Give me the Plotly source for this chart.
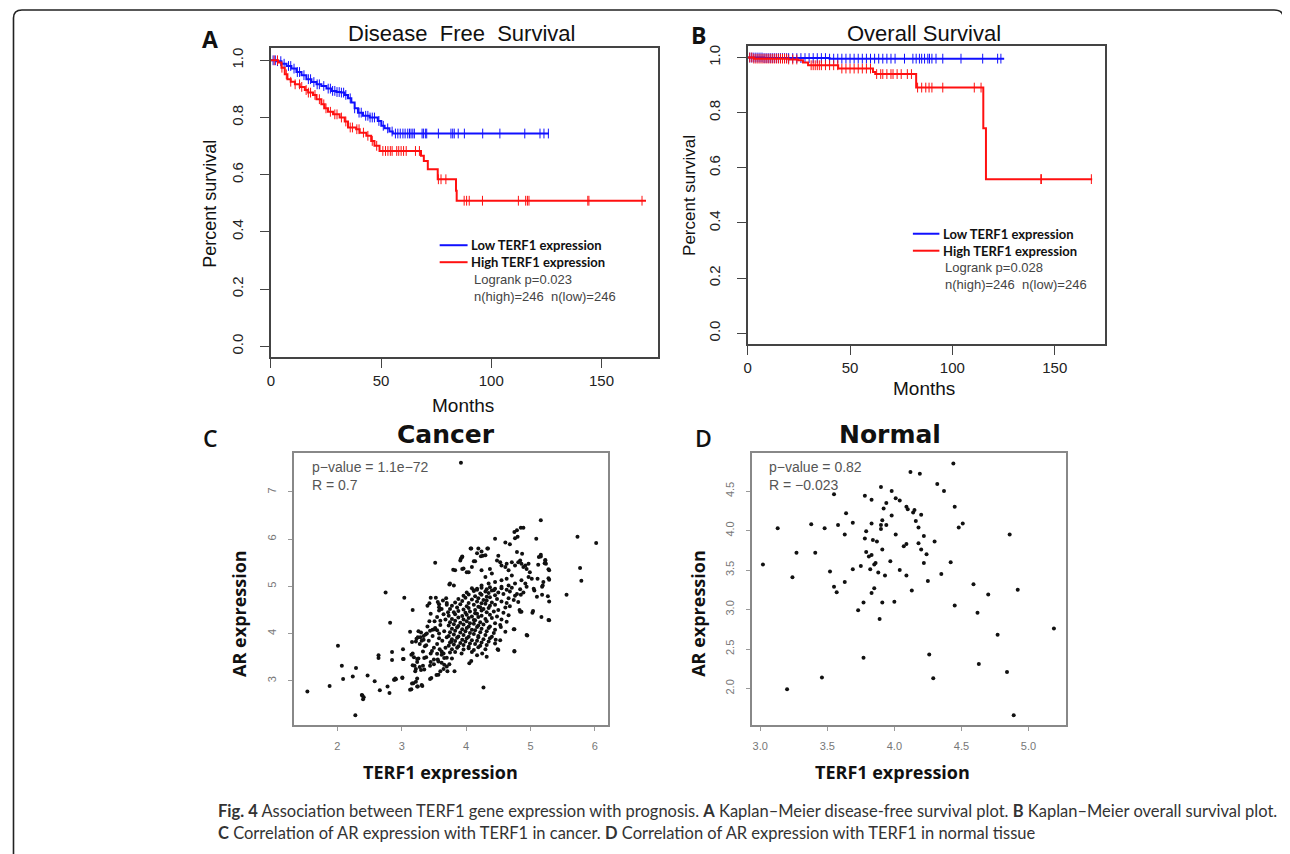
import numpy as np
import plotly.graph_objects as go

W, H = 1290, 854          # browser window
OFF = 8                   # default page body margin
FW, FH = W - OFF, H - OFF # figure size

# ---------------- Panel A: Disease free survival ----------------
dfs_low_t = [0, 2.6, 4.8, 7.1, 9.3, 11.6, 13.9, 16.1, 18.4, 20.7, 22.9, 25.2, 27.4, 29.7, 31.9,
             33.5, 35.0, 36.5, 38.0, 39.5, 41.8, 44.8, 48.5, 50.1, 51.6, 53.8, 55.3]
dfs_low_s = [1.0, 0.997, 0.988, 0.980, 0.971, 0.959, 0.948, 0.934, 0.924, 0.916, 0.910, 0.901, 0.893,
             0.889, 0.887, 0.879, 0.867, 0.852, 0.832, 0.817, 0.806, 0.800, 0.788, 0.771, 0.762, 0.751, 0.744]
dfs_low_end = 126.2
dfs_low_cens = [1, 2, 3, 4.5, 6, 8, 9, 10.5, 12, 13, 15, 17, 18, 19.5, 21, 22, 24, 26, 27, 28, 29, 30, 31,
                32, 33, 34, 36, 38, 40, 41, 43, 44, 45, 46, 47, 49, 51, 53, 55, 56.5, 57.6, 58.7, 59.9,
                60.9, 62.1, 62.9, 63.6, 64.4, 65.1, 68.6, 69.2, 70.1, 70.7, 76.0, 81.7, 82.5, 83.2, 85.0,
                87.8, 96.1, 103.9, 115.2, 122.1, 123.9, 125.9]

dfs_high_t = [0, 3.3, 4.8, 6.3, 7.5, 9.0, 10.9, 13.1, 15.4, 16.9, 19.1, 20.7, 22.9, 24.4, 25.9, 28.2,
              31.2, 33.5, 35.0, 38.7, 40.3, 43.3, 45.5, 47.0, 49.3, 68.1, 69.4, 71.2, 75.7, 84.0, 84.3]
dfs_high_s = [1.0, 0.992, 0.974, 0.951, 0.934, 0.925, 0.916, 0.907, 0.896, 0.887, 0.879, 0.864, 0.846,
              0.832, 0.820, 0.811, 0.800, 0.786, 0.765, 0.759, 0.747, 0.736, 0.718, 0.701, 0.683, 0.666,
              0.648, 0.619, 0.584, 0.544, 0.509]
dfs_high_end = 170.2
dfs_high_cens = [1.5, 3, 5, 7, 9, 11, 13, 14, 16, 17, 18, 20, 22, 24, 25, 27, 29, 30, 32, 34, 36, 37, 39,
                 40, 42, 44, 46, 48, 50.8, 52.0, 53.1, 54.2, 55.0, 57.1, 58.0, 59.1, 60.2, 61.4, 65.6,
                 67.4, 76.0, 77.2, 79.4, 87.7, 88.8, 90.0, 96.0, 112.3, 115.6, 116.4, 117.1, 143.8,
                 144.3, 168.4]

# ---------------- Panel B: Overall survival ----------------
os_low_t = [0, 8, 40]
os_low_s = [1.0, 0.998, 0.996]
os_low_end = 125.3
os_low_cens = [1, 2, 3, 4, 5, 6, 7, 8, 9, 10, 11, 12, 13, 14, 15, 16, 17, 18, 19, 20, 22, 24, 26, 28,
               30, 32, 34, 36, 38, 40, 42, 44, 46, 48, 50, 52, 54, 56, 58, 60, 62, 64, 66, 68, 70, 72,
               76.6, 80.7, 82.3, 83.9, 85, 86.4, 88.0, 88.8, 90, 92.0, 95.3, 104.2, 114.8, 122.1, 123.7]

os_high_t = [0, 3, 20, 24.7, 27, 29.5, 44.2, 61.2, 62.3, 82.3, 115.1, 116.4]
os_high_s = [1.0, 0.996, 0.993, 0.99, 0.982, 0.972, 0.960, 0.948, 0.940, 0.891, 0.744, 0.559]
os_high_end = 168.3
os_high_cens = [1, 2, 3, 4, 5, 6, 7, 8, 9, 10, 11, 12, 13, 14, 15, 16, 17, 18, 19, 20, 22, 24, 31, 32,
                33, 34, 35, 36, 38, 40, 42, 44, 46, 48, 50, 52, 54, 56, 58, 60, 63, 65, 66, 68, 70, 71,
                73, 75, 78, 80, 83, 85, 87, 88.6, 90, 95.3, 110.7, 114, 143.2, 143.5, 167.9]

# ---------------- Panel C: Cancer (TERF1, AR) ----------------
cancer_points = [
    (3.92, 7.62), (1.535, 2.775), (1.88, 2.89), (2.01, 3.74), (2.07, 3.32), (2.09, 3.04), (2.24, 3.09),
    (2.29, 3.27), (2.28, 2.27), (2.38, 2.70), (2.41, 2.65), (2.47, 3.11), (2.58, 2.99), (2.64, 3.54),
    (2.64, 3.48), (2.66, 2.80), (2.75, 4.87), (2.78, 2.88), (2.81, 2.74), (2.82, 4.23), (2.85, 3.61),
    (2.85, 3.44), (2.89, 3.02), (2.91, 3.03), (3.02, 3.67), (3.01, 3.06), (3.04, 4.76), (3.03, 3.46),
    (3.13, 4.04), (3.15, 2.82), (3.17, 4.50), (3.17, 3.58), (3.18, 2.95), (3.20, 3.32), (3.22, 3.83),
    (3.24, 3.46), (3.21, 3.20), (3.25, 2.88), (3.32, 2.89), (3.30, 3.23), (3.34, 3.87), (3.36, 3.73),
    (3.38, 3.50), (3.40, 4.59), (3.43, 4.64), (3.45, 4.76), (3.44, 3.32), (3.46, 3.06), (3.47, 3.63),
    (3.48, 4.08), (3.52, 5.50), (3.57, 3.13), (3.57, 3.41), (3.58, 3.90), (3.59, 3.67), (3.60, 4.27),
    (3.62, 3.62), (3.66, 3.34), (3.69, 4.75), (3.70, 4.61), (3.71, 3.20), (3.74, 5.04), (3.77, 3.83),
    (3.82, 3.20), (3.80, 5.35), (3.92, 5.59), (3.94, 5.63), (3.96, 5.38), (4.07, 5.80), (4.19, 5.80),
    (4.23, 5.64), (4.30, 5.66), (4.33, 5.80), (4.27, 2.86), (4.45, 6.01), (4.61, 5.93), (4.68, 5.89),
    (4.75, 6.15), (4.79, 6.19), (4.85, 6.24), (4.89, 6.24), (4.80, 6.05), (4.76, 6.02), (5.16, 6.40),
    (5.09, 6.01), (5.73, 6.05), (6.02, 5.92), (5.77, 5.39), (5.79, 5.12), (5.56, 4.82), (5.29, 4.68),
    (5.28, 4.29), (5.03, 4.44), (4.95, 3.96), (4.75, 3.62), (4.75, 4.09), (4.50, 3.65), (4.46, 3.87),
    (5.18, 4.82), (5.18, 4.99), (5.28, 5.17), (5.23, 5.56), (5.16, 5.63), (5.22, 5.49), (5.28, 5.36),
    # upper part of the main cloud
    (4.08, 5.80), (4.17, 5.70), (4.24, 5.74), (4.34, 5.80), (4.26, 5.65), (3.94, 5.62), (3.91, 5.55),
    (3.83, 5.34), (3.94, 5.37), (4.01, 5.30), (4.09, 5.41), (4.12, 5.53), (4.14, 5.53), (4.24, 5.34),
    (4.30, 5.20), (4.37, 5.37), (4.40, 5.27), (4.50, 5.65), (4.48, 5.55), (4.53, 5.51), (4.55, 5.44),
    (4.61, 5.41), (4.63, 5.48), (4.66, 5.34), (4.71, 5.51), (4.76, 5.44), (4.81, 5.51), (4.84, 5.55),
    (4.86, 5.48), (4.89, 5.41), (4.92, 5.44), (4.94, 5.37), (4.97, 5.48), (4.99, 5.30), (4.79, 5.73),
    (4.87, 5.69), (5.13, 5.62), (5.16, 5.67), (5.23, 5.55), (5.24, 5.48), (5.12, 5.46), (5.29, 5.34),
    (4.97, 5.20), (5.02, 5.16), (5.11, 5.16), (5.20, 5.09), (5.29, 5.14), (4.71, 5.23), (4.63, 5.16),
    (4.55, 5.13), (4.45, 5.09), (4.35, 5.06), (4.24, 5.02), (4.17, 4.95), (4.12, 4.92), (4.04, 5.30),
    (3.81, 5.02), (3.75, 5.06), (4.45, 4.95), (4.55, 4.99), (4.66, 5.02), (4.76, 5.06), (4.86, 5.13),
    (4.92, 5.06), (5.05, 4.95), (5.19, 5.02),
    # dense core
    (4.09, 4.96), (4.17, 4.93), (4.24, 4.97), (4.32, 4.94), (4.37, 4.98), (4.43, 4.92), (4.55, 4.96),
    (4.63, 4.93), (4.71, 4.97), (4.84, 4.94), (4.94, 4.99), (5.06, 4.91),
    (4.01, 4.87), (4.12, 4.90), (4.22, 4.85), (4.30, 4.89), (4.35, 4.86), (4.40, 4.91), (4.50, 4.87),
    (4.68, 4.89), (4.79, 4.84), (4.89, 4.87),
    (3.96, 4.80), (4.04, 4.83), (4.14, 4.79), (4.24, 4.82), (4.32, 4.78), (4.45, 4.81), (4.58, 4.84),
    (4.76, 4.80), (4.85, 4.82),
    (3.88, 4.73), (3.99, 4.76), (4.09, 4.72), (4.19, 4.75), (4.27, 4.71), (4.37, 4.77), (4.48, 4.73),
    (4.66, 4.75), (4.74, 4.71),
    (3.83, 4.66), (3.94, 4.69), (4.04, 4.65), (4.17, 4.68), (4.24, 4.64), (4.32, 4.70), (4.40, 4.66),
    (4.55, 4.68), (4.63, 4.65), (4.81, 4.67),
    (3.78, 4.59), (3.91, 4.62), (4.01, 4.58), (4.12, 4.61), (4.19, 4.57), (4.30, 4.63), (4.37, 4.59),
    (4.45, 4.61), (4.68, 4.58),
    (3.75, 4.52), (3.86, 4.55), (3.96, 4.51), (4.04, 4.54), (4.14, 4.50), (4.22, 4.56), (4.27, 4.52),
    (4.35, 4.54), (4.50, 4.50), (4.61, 4.55),
    (3.81, 4.45), (3.88, 4.48), (3.99, 4.44), (4.06, 4.47), (4.14, 4.43), (4.24, 4.49), (4.32, 4.45),
    (4.43, 4.47), (4.58, 4.44), (4.84, 4.46),
    (3.73, 4.38), (3.83, 4.41), (3.94, 4.37), (4.01, 4.40), (4.09, 4.36), (4.17, 4.42), (4.24, 4.38),
    (4.37, 4.40), (4.48, 4.36), (4.66, 4.39),
    (3.78, 4.31), (3.88, 4.34), (3.96, 4.30), (4.04, 4.33), (4.12, 4.29), (4.19, 4.35), (4.30, 4.31),
    (4.40, 4.33), (4.55, 4.30),
    (3.75, 4.24), (3.83, 4.27), (3.91, 4.23), (4.01, 4.26), (4.06, 4.22), (4.14, 4.28), (4.22, 4.24),
    (4.32, 4.26), (4.45, 4.22), (4.63, 4.25),
    (3.73, 4.17), (3.81, 4.20), (3.88, 4.16), (3.96, 4.19), (4.04, 4.15), (4.12, 4.21), (4.19, 4.17),
    (4.27, 4.19), (4.37, 4.15), (4.53, 4.18),
    (3.78, 4.10), (3.86, 4.13), (3.94, 4.09), (4.01, 4.12), (4.09, 4.08), (4.17, 4.14), (4.24, 4.10),
    (4.35, 4.12), (4.45, 4.08),
    (3.75, 4.03), (3.83, 4.06), (3.91, 4.02), (3.99, 4.05), (4.06, 4.01), (4.14, 4.07), (4.22, 4.03),
    (4.32, 4.05), (4.43, 4.01), (4.61, 4.04),
    (3.73, 3.95), (3.81, 3.98), (3.88, 3.94), (3.96, 3.97), (4.04, 3.93), (4.12, 3.99), (4.19, 3.95),
    (4.30, 3.97), (4.40, 3.93),
    (3.78, 3.88), (3.86, 3.91), (3.94, 3.87), (4.01, 3.90), (4.09, 3.86), (4.19, 3.92), (4.27, 3.88),
    (4.37, 3.90), (4.53, 3.86),
    (3.75, 3.81), (3.83, 3.84), (3.91, 3.80), (3.99, 3.83), (4.06, 3.79), (4.17, 3.85), (4.24, 3.81),
    (4.35, 3.83), (4.45, 3.79),
    (3.73, 3.74), (3.81, 3.77), (3.88, 3.73), (3.96, 3.76), (4.04, 3.72), (4.14, 3.78), (4.22, 3.74),
    (4.32, 3.76),
    (3.78, 3.67), (3.86, 3.70), (3.96, 3.66), (4.04, 3.69), (4.12, 3.65), (4.19, 3.71), (4.30, 3.67),
    # left side of the cloud
    (3.62, 4.52), (3.65, 4.41), (3.68, 4.30), (3.55, 4.35), (3.60, 4.18), (3.66, 4.05), (3.52, 4.12),
    (3.58, 4.00), (3.70, 3.92), (3.48, 3.95), (3.63, 3.85), (3.55, 3.78), (3.68, 3.70), (3.42, 3.85),
    (3.50, 3.70), (3.38, 3.75), (3.45, 3.58), (3.62, 3.55), (3.33, 3.62), (3.28, 3.78), (3.25, 3.92),
    (3.30, 4.02), (3.40, 4.15), (3.35, 3.48), (3.50, 3.45), (3.66, 3.48), (3.72, 4.45), (3.70, 4.65),
    (3.64, 4.70), (3.58, 4.62), (3.45, 4.42),
    (3.43, 4.26), (3.51, 4.26), (3.53, 4.76), (3.56, 4.67), (3.58, 4.56), (3.58, 4.49), (3.26, 4.05),
    (3.16, 3.82), (3.23, 3.89), (3.29, 3.92), (3.31, 3.85), (3.34, 3.95), (3.37, 3.98), (3.39, 4.00),
    (3.44, 4.06), (3.51, 4.09), (3.55, 4.07), (3.02, 3.46), (3.15, 3.55), (3.19, 3.50), (3.26, 3.47),
    (3.17, 3.33), (3.22, 3.25), (3.28, 3.29), (3.33, 3.32), (3.35, 3.24), (3.24, 3.40), (3.45, 3.40),
    (3.50, 3.35), (3.56, 3.45), (3.62, 3.38), (3.70, 3.49), (3.75, 3.60), (3.65, 3.58), (3.55, 3.57),
    (2.39, 2.69), (2.40, 2.61), (2.88, 3.02), (2.90, 3.05), (3.01, 3.07), (3.13, 2.81), (3.16, 2.94),
    (3.24, 2.88), (3.31, 2.91), (3.22, 2.98), (3.24, 3.05), (3.44, 3.04), (3.54, 3.12), (3.60, 3.20),
    (3.65, 3.25), (3.70, 3.30), (3.74, 3.35),
    # right / lower edge of the cloud
    (5.27, 4.79), (5.10, 4.78), (5.29, 4.28), (5.17, 4.35), (5.04, 4.48), (4.86, 4.46), (4.83, 4.50),
    (4.94, 3.97), (4.74, 4.09), (4.75, 3.63), (4.54, 4.14), (4.49, 3.67), (4.32, 3.51), (4.25, 3.58),
    (4.17, 3.54), (4.09, 3.61), (4.05, 3.37), (4.08, 3.42), (3.93, 3.58), (3.83, 3.61), (3.78, 3.47),
]
cancer_terf1 = [p[0] for p in cancer_points]
cancer_ar = [p[1] for p in cancer_points]

# ---------------- Panel D: Normal (TERF1, AR) ----------------
normal_points = [
    (3.02, 3.57), (3.13, 4.03), (3.20, 1.99), (3.24, 3.41), (3.27, 3.72), (3.38, 4.08), (3.41, 3.72),
    (3.46, 2.14), (3.48, 4.03), (3.52, 3.48), (3.55, 4.46), (3.55, 3.29), (3.57, 3.22), (3.58, 4.07),
    (3.63, 3.35), (3.63, 3.95), (3.64, 4.22), (3.69, 4.10), (3.69, 3.51), (3.73, 2.99), (3.75, 3.55),
    (3.77, 3.09), (3.77, 2.39), (3.78, 3.90), (3.78, 4.44), (3.79, 3.99), (3.79, 3.73), (3.81, 3.67),
    (3.82, 3.51), (3.83, 3.69), (3.83, 3.21), (3.83, 4.39), (3.83, 4.09), (3.84, 3.88), (3.85, 3.27),
    (3.85, 3.57), (3.86, 3.59), (3.87, 3.86), (3.88, 3.47), (3.89, 2.88), (3.90, 4.02), (3.90, 4.55),
    (3.90, 4.07), (3.91, 3.09), (3.91, 4.13), (3.91, 3.76), (3.92, 4.28), (3.93, 3.43), (3.94, 4.35),
    (3.94, 4.07), (3.97, 3.61), (3.98, 4.19), (3.98, 4.50), (4.00, 3.10), (4.01, 3.95), (4.01, 4.41),
    (4.04, 4.38), (4.04, 3.50), (4.07, 3.80), (4.09, 3.83), (4.09, 3.43), (4.09, 4.30), (4.10, 4.27),
    (4.12, 4.74), (4.13, 3.24), (4.14, 4.23), (4.15, 4.26), (4.16, 4.12), (4.18, 4.04), (4.18, 3.84),
    (4.19, 4.72), (4.20, 4.20), (4.20, 3.76), (4.22, 3.59), (4.22, 3.93), (4.24, 3.70), (4.25, 3.36),
    (4.26, 2.43), (4.29, 2.13), (4.30, 3.86), (4.32, 4.59), (4.35, 3.45), (4.37, 4.50), (4.42, 3.60),
    (4.44, 4.85), (4.45, 3.05), (4.45, 4.30), (4.48, 4.04), (4.51, 4.09), (4.59, 3.32), (4.62, 2.96),
    (4.63, 2.31), (4.70, 3.19), (4.77, 2.68), (4.84, 2.21), (4.86, 3.95), (4.89, 1.66), (4.92, 3.25),
    (5.19, 2.76),
]
normal_terf1 = [p[0] for p in normal_points]
normal_ar = [p[1] for p in normal_points]

# tick labels
km_x_ticks = [0, 50, 100, 150]
km_y_ticks = [0.0, 0.2, 0.4, 0.6, 0.8, 1.0]
km_y_text = ["0.0", "0.2", "0.4", "0.6", "0.8", "1.0"]
c_x_ticks = [2, 3, 4, 5, 6]
c_y_ticks = [3, 4, 5, 6, 7]
d_x_ticks = [3.0, 3.5, 4.0, 4.5, 5.0]
d_x_text = ["3.0", "3.5", "4.0", "4.5", "5.0"]
d_y_ticks = [2.0, 2.5, 3.0, 3.5, 4.0, 4.5]
d_y_text = ["2.0", "2.5", "3.0", "3.5", "4.0", "4.5"]


# ---------------- helpers (window pixels -> paper) ----------------
def PX(x):
    return (x - OFF) / FW


def PY(y):
    return 1 - (y - OFF) / FH


def step_xy(t, s, end):
    return list(t) + [end], list(s) + [s[-1]]


def surv_at(t, s, times):
    idx = np.searchsorted(np.array(t), np.array(times), side="right") - 1
    return np.array(s)[idx]


BLUE = "#1010ff"
RED = "#ff1010"
ARIAL = "Liberation Sans, Arial, sans-serif"
BOLDF = "Open Sans, Arial, sans-serif"
LEGF = "Lato, Open Sans, sans-serif"

fig = go.Figure()


def add_km(t, s, end, cens, color, xa, ya):
    x, y = step_xy(t, s, end)
    fig.add_trace(go.Scatter(x=x, y=y, mode="lines", line=dict(color=color, width=2, shape="hv"),
                             xaxis=xa, yaxis=ya, showlegend=False, hoverinfo="skip"))
    fig.add_trace(go.Scatter(x=cens, y=surv_at(t, s, cens), mode="markers",
                             marker=dict(symbol="line-ns", size=7, color=color,
                                         line=dict(color=color, width=1)),
                             xaxis=xa, yaxis=ya, showlegend=False, hoverinfo="skip"))


add_km(dfs_low_t, dfs_low_s, dfs_low_end, dfs_low_cens, BLUE, "x", "y")
add_km(dfs_high_t, dfs_high_s, dfs_high_end, dfs_high_cens, RED, "x", "y")
add_km(os_low_t, os_low_s, os_low_end, os_low_cens, BLUE, "x2", "y2")
add_km(os_high_t, os_high_s, os_high_end, os_high_cens, RED, "x2", "y2")

fig.add_trace(go.Scatter(x=cancer_terf1, y=cancer_ar, mode="markers",
                         marker=dict(size=4, color="#111111"), xaxis="x3", yaxis="y3",
                         showlegend=False, hoverinfo="skip"))
fig.add_trace(go.Scatter(x=normal_terf1, y=normal_ar, mode="markers",
                         marker=dict(size=4, color="#111111"), xaxis="x4", yaxis="y4",
                         showlegend=False, hoverinfo="skip"))


def km_axes(xdom, ydom, xr, yr, anchor_x, anchor_y):
    common = dict(showline=True, mirror=True, linecolor="#444", linewidth=1.6, showgrid=False,
                  zeroline=False, ticks="outside", ticklen=9, tickwidth=1.4, tickcolor="#444",
                  tickfont=dict(family=ARIAL, size=15, color="#222"))
    xa = dict(common, domain=xdom, range=xr, tickvals=km_x_ticks, anchor=anchor_y, ticklabelstandoff=0)
    ya = dict(common, domain=ydom, range=yr, tickvals=km_y_ticks, ticktext=km_y_text,
              tickangle=-90, anchor=anchor_x, ticklabelstandoff=11)
    return xa, ya


def sc_axes(xdom, ydom, xr, yr, xt, yt, anchor_x, anchor_y, xtxt=None, ytxt=None):
    common = dict(showline=True, mirror=True, linecolor="#888", linewidth=1.5, showgrid=False,
                  zeroline=False, ticks="outside", ticklen=4, tickwidth=1, tickcolor="#999",
                  tickfont=dict(family=ARIAL, size=11, color="#777"))
    xa = dict(common, domain=xdom, range=xr, tickvals=xt, anchor=anchor_y, ticklabelstandoff=6)
    ya = dict(common, domain=ydom, range=yr, tickvals=yt, tickangle=-90, anchor=anchor_x,
              ticklabelstandoff=8)
    if xtxt is not None:
        xa["ticktext"] = xtxt
    if ytxt is not None:
        ya["ticktext"] = ytxt
    return xa, ya


xa1, ya1 = km_axes([PX(267.7), PX(655.7)], [PY(356.7), PY(46.7)], [0, 175.5], [-0.0384, 1.0442], "x", "y")
xa2, ya2 = km_axes([PX(746), PX(1104.3)], [PY(343.3), PY(45)], [0, 174.5], [-0.0386, 1.042], "x2", "y2")
xa3, ya3 = sc_axes([PX(291), PX(606)], [PY(725), PY(452.3)], [1.329, 6.206], [2.06, 7.83],
                   c_x_ticks, c_y_ticks, "x3", "y3")
xa4, ya4 = sc_axes([PX(750), PX(1065.7)], [PY(725), PY(452.3)], [2.936, 5.283], [1.536, 4.985],
                   d_x_ticks, d_y_ticks, "x4", "y4", xtxt=d_x_text, ytxt=d_y_text)

annotations = []


def txt(x, y, s, size, family=ARIAL, color="#111", xanchor="center", angle=0, weight=None):
    f = dict(family=family, size=size, color=color)
    if weight:
        f["weight"] = weight
    annotations.append(dict(x=PX(x), y=PY(y), xref="paper", yref="paper", text=s, showarrow=False,
                            xanchor=xanchor, yanchor="middle", textangle=angle, font=f,
                            align="left" if xanchor == "left" else "center", borderpad=0))


# Panel A texts
txt(206.7, 37.7, "<b>A</b>", 23, BOLDF)
txt(458.7, 33, "Disease  Free  Survival", 22)
txt(206.7, 203, "Percent survival", 18, angle=-90)
txt(460, 405, "Months", 19)
txt(467.5, 253, "<b>Low TERF1 expression</b><br><b>High TERF1 expression</b>", 13, LEGF, xanchor="left")
txt(470.5, 287, "Logrank p=0.023<br>n(high)=246  n(low)=246", 13, color="#444", xanchor="left")

# Panel B texts
txt(696.7, 34, "<b>B</b>", 23, BOLDF)
txt(923.3, 32.7, "Overall Survival", 22)
txt(688.3, 195, "Percent survival", 17, angle=-90)
txt(923.3, 388, "Months", 19)
txt(941, 241.5, "<b>Low TERF1 expression</b><br><b>High TERF1 expression</b>", 13, LEGF, xanchor="left")
txt(943, 275, "Logrank p=0.028<br>n(high)=246  n(low)=246", 13, color="#444", xanchor="left")

# Panel C texts
txt(206.7, 438, "C", 23, BOLDF, weight=600)
txt(443.3, 434, "<b>Cancer</b>", 25, "DejaVu Sans, sans-serif")
txt(235, 613.3, "<b>AR expression</b>", 18, BOLDF, angle=-90)
txt(438, 771.7, "<b>TERF1 expression</b>", 18, BOLDF)
txt(308, 475.8, "p\u2212value = 1.1e\u221272<br>R = 0.7", 14, color="#555", xanchor="left")

# Panel D texts
txt(701.7, 438, "D", 23, BOLDF, weight=600)
txt(888.3, 434, "<b>Normal</b>", 25, "DejaVu Sans, sans-serif")
txt(696.7, 613, "<b>AR expression</b>", 18, BOLDF, angle=-90)
txt(891.7, 771.7, "<b>TERF1 expression</b>", 18, BOLDF)
txt(766.3, 475.5, "p\u2212value = 0.82<br>R = \u22120.023", 14, color="#555", xanchor="left")

# Caption
CAPF = "Lato, Open Sans, sans-serif"
txt(214, 811, "<b>Fig. 4</b> Association between TERF1 gene expression with prognosis. <b>A</b> Kaplan\u2013Meier "
              "disease-free survival plot. <b>B</b> Kaplan\u2013Meier overall survival plot.",
    16.5, CAPF, color="#333", xanchor="left")
txt(214, 833, "<b>C</b> Correlation of AR expression with TERF1 in cancer. <b>D</b> Correlation of AR "
              "expression with TERF1 in normal tissue",
    16.5, CAPF, color="#333", xanchor="left")

shapes = []


def hline(x0, x1, y, color):
    shapes.append(dict(type="line", xref="paper", yref="paper", x0=PX(x0), x1=PX(x1), y0=PY(y), y1=PY(y),
                       line=dict(color=color, width=2)))


hline(437, 465, 244.5, BLUE)
hline(437, 465, 261.5, RED)
hline(911.7, 938.3, 233, BLUE)
hline(911.7, 938.3, 250, RED)

# outer frame (rounded top corners, open at the bottom)
path = "M {a},{b} L {a},{c} Q {a},{d} {e},{d} L {f},{d} Q {g},{d} {g},{h}".format(
    a=PX(9.5), b=PY(860), c=PY(17), d=PY(9), e=PX(18), f=PX(1274), g=PX(1283), h=PY(16))
shapes.append(dict(type="path", xref="paper", yref="paper", path=path,
                   line=dict(color="#222", width=1.6)))

fig.update_layout(
    width=FW, height=FH, margin=dict(l=0, r=0, t=0, b=0),
    paper_bgcolor="white", plot_bgcolor="white", showlegend=False,
    xaxis=xa1, yaxis=ya1, xaxis2=xa2, yaxis2=ya2, xaxis3=xa3, yaxis3=ya3, xaxis4=xa4, yaxis4=ya4,
    annotations=annotations, shapes=shapes,
)

fig.write_html("out.html")
